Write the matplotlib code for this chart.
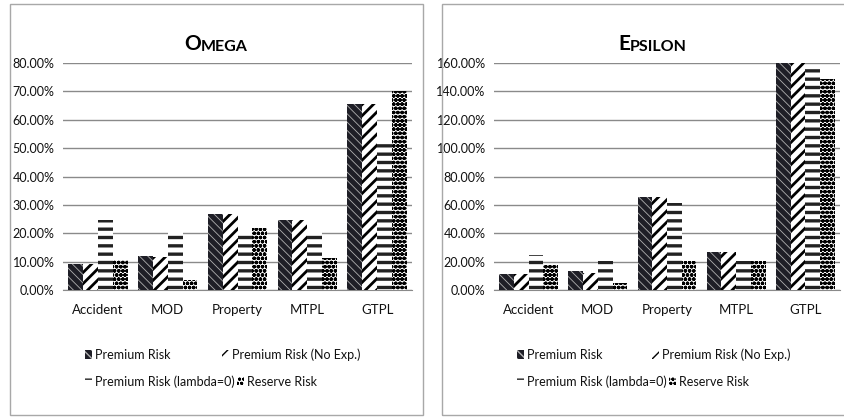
import matplotlib
matplotlib.use("Agg")
import matplotlib.pyplot as plt
import numpy as np
from matplotlib.patches import Patch, Rectangle
from matplotlib.ticker import PercentFormatter, MultipleLocator

plt.rcParams['font.family'] = ['Lato', 'DejaVu Sans']

categories = ["Accident", "MOD", "Property", "MTPL", "GTPL"]
series = ["Premium Risk", "Premium Risk (No Exp.)", "Premium Risk (lambda=0)", "Reserve Risk"]

omega_premium = [0.092, 0.121, 0.267, 0.247, 0.656]
omega_no_exp = [0.092, 0.118, 0.267, 0.247, 0.656]
omega_lambda0 = [0.245, 0.206, 0.204, 0.204, 0.529]
omega_reserve = [0.106, 0.035, 0.218, 0.112, 0.700]

epsilon_premium = [0.113, 0.134, 0.659, 0.266, 1.62]
epsilon_no_exp = [0.113, 0.122, 0.659, 0.266, 1.61]
epsilon_lambda0 = [0.247, 0.205, 0.612, 0.205, 1.58]
epsilon_reserve = [0.176, 0.047, 0.205, 0.205, 1.49]

# face, hatch colour, hatch, hatch linewidth
styles = [
    ('#1e1e26', '#b0b0b0', '\\\\\\\\', 0.6),
    ('white', 'black', '///', 2.0),
    ('white', '#222222', '--', 2.4),
    ('white', 'black', 'oooo', 1.3),
]

W, H = 844, 417
fig = plt.figure(figsize=(W / 100, H / 100), dpi=100)


def px(x, y):
    return x / W, 1 - y / H


# panel frames
for x0, x1 in [(10, 423), (442, 852)]:
    fig.patches.append(Rectangle(px(x0, 415), (x1 - x0) / W, 411 / H,
                                 transform=fig.transFigure, fill=False,
                                 edgecolor='#a8a8a8', linewidth=1.0))


def panel(rect, data, ymax, step, title, title_x, legend_x):
    ax = fig.add_axes(rect)
    x = np.arange(len(categories))
    w = 0.85 / 4
    for i, vals in enumerate(data):
        face, hc, hatch, hlw = styles[i]
        bars = ax.bar(x + (i - 1.5) * w, vals, w, color=face, edgecolor=hc,
                      hatch=hatch, linewidth=0, zorder=3)
        for b in bars:
            b.set_hatch_linewidth(hlw)
    ax.set_xlim(-0.5, len(categories) - 0.5)
    ax.set_ylim(0, ymax)
    ax.yaxis.set_major_locator(MultipleLocator(step))
    ax.yaxis.set_major_formatter(PercentFormatter(1.0, decimals=2))
    ax.set_xticks(x)
    ax.set_xticklabels(categories)
    ax.grid(axis='y', color='#8a8a8a', linewidth=1.0, zorder=0)
    ax.set_axisbelow(True)
    for s in ['left', 'right', 'top']:
        ax.spines[s].set_visible(False)
    ax.spines['bottom'].set_color('#8a8a8a')
    ax.tick_params(axis='both', length=0, labelsize=9, colors='#111111')
    ax.tick_params(axis='x', pad=10, labelsize=9.5)
    ax.tick_params(axis='y', pad=6)

    # small caps title
    tx, ty = px(title_x, 50)
    t1 = fig.text(tx, ty, title[0], fontsize=15, fontweight='bold', va='baseline', ha='left')
    ax.annotate(title[1:], xy=(1, 0), xycoords=t1, fontsize=11.5, fontweight='bold',
                va='bottom', ha='left', annotation_clip=False)

    # legend entries, laid out like the spreadsheet legend
    spots = [(legend_x[0], 355), (legend_x[1], 355), (legend_x[0], 382), (legend_x[2], 382)]
    for i, name in enumerate(series):
        face, hc, hatch, hlw = styles[i]
        h = Patch(facecolor=face, edgecolor=hc, hatch=hatch, linewidth=0)
        lx, ly = px(*spots[i])
        fig.legend(handles=[h], labels=[name], loc='center left', bbox_to_anchor=(lx, ly),
                   frameon=False, fontsize=9, handlelength=0.55, handleheight=0.75,
                   handletextpad=0.25, borderpad=0, borderaxespad=0,
                   labelcolor='#111111')
    return ax


panel([63 / W, 1 - 290 / H, 349 / W, 227 / H],
      [omega_premium, omega_no_exp, omega_lambda0, omega_reserve],
      0.8, 0.1, "OMEGA", 184, (85, 222, 237))
panel([494 / W, 1 - 290 / H, 346 / W, 227 / H],
      [epsilon_premium, epsilon_no_exp, epsilon_lambda0, epsilon_reserve],
      1.6, 0.2, "EPSILON", 618, (517, 652, 669))

fig.savefig("out.png", dpi=100)
